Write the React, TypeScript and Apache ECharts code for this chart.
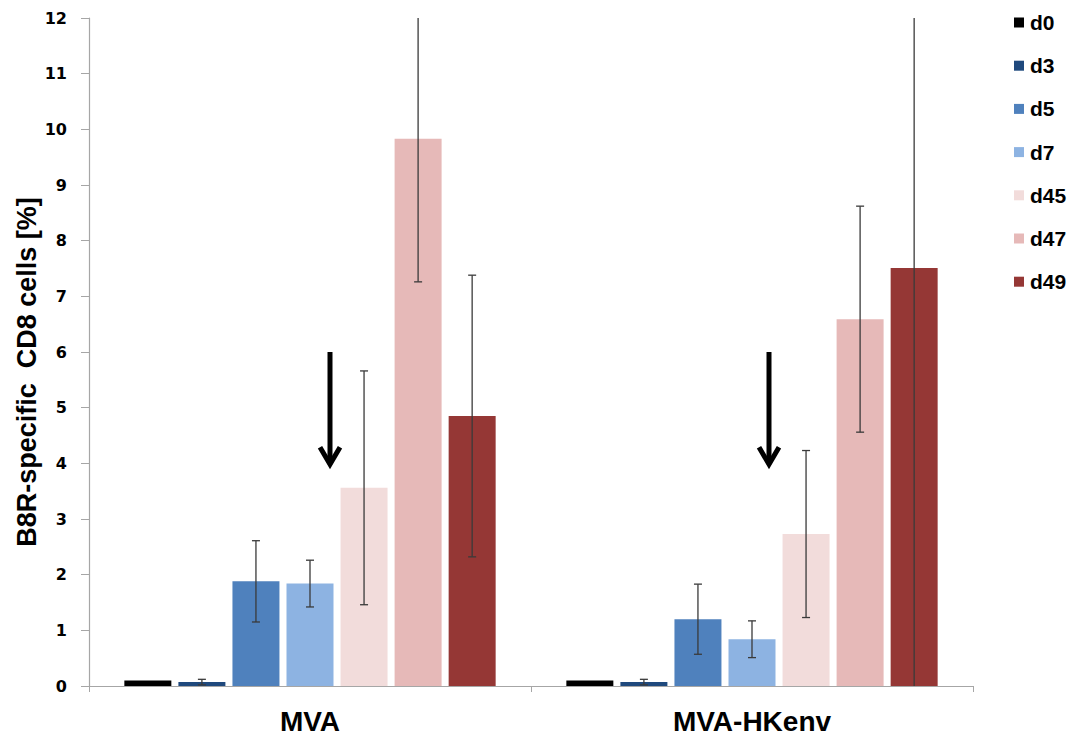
import React, { useEffect, useRef } from "react";
import * as echarts from "echarts";

const categories = ["MVA", "MVA-HKenv"];
const seriesNames = ["d0", "d3", "d5", "d7", "d45", "d47", "d49"];
const seriesColors = ["#000000", "#1F497D", "#4F81BD", "#8DB3E2", "#F2DCDB", "#E6B9B8", "#953735"];
const d0 = [0.1, 0.1];
const d3 = [0.07, 0.07];
const d5 = [1.88, 1.2];
const d7 = [1.84, 0.84];
const d45 = [3.56, 2.73];
const d47 = [9.83, 6.59];
const d49 = [4.85, 7.51];
const errD0 = [0, 0];
const errD3 = [0.05, 0.05];
const errD5 = [0.73, 0.63];
const errD7 = [0.42, 0.33];
const errD45 = [2.1, 1.5];
const errD47 = [2.57, 2.03];
const errD49 = [2.53, 8.0];
const yTicks = [0, 1, 2, 3, 4, 5, 6, 7, 8, 9, 10, 11, 12];
// arrow annotations: [category index, start value, tip value]
const arrows = [
  [0, 6.0, 3.93],
  [1, 6.0, 3.93],
];

const means = [d0, d3, d5, d7, d45, d47, d49];
const errs = [errD0, errD3, errD5, errD7, errD45, errD47, errD49];

const BAR_W = 47;
const BAR_STEP = 54.05;
const Y_MIN = yTicks[0];
const Y_MAX = yTicks[yTicks.length - 1];

export default function App() {
  const ref = useRef<HTMLDivElement>(null);
  useEffect(() => {
    if (!ref.current) return;
    const chart = echarts.init(ref.current, null, { renderer: "svg" });

    const errData: any[] = [];
    means.forEach((m, s) => {
      m.forEach((v, c) => {
        const e = errs[s][c];
        if (e > 0) errData.push([c, v - e, v + e, s]);
      });
    });

    const barSeries = seriesNames.map((name, i) => ({
      name,
      type: "bar",
      data: means[i],
      barWidth: BAR_W,
      barGap: "15%",
      itemStyle: { color: seriesColors[i] },
    }));

    const option: any = {
      animation: false,
      grid: { left: 89, right: 98, top: 18, bottom: 49, containLabel: false },
      legend: {
        orient: "vertical",
        left: 1009,
        top: 7,
        icon: "rect",
        itemWidth: 10,
        itemHeight: 10,
        itemGap: 22.2,
        data: seriesNames,
        textStyle: {
          fontFamily: "Liberation Sans, Arial, sans-serif",
          fontWeight: "bold",
          fontSize: 21,
          lineHeight: 19.5,
          color: "#000",
          padding: [0, 0, 0, 1],
        },
      },
      xAxis: {
        type: "category",
        data: categories,
        axisLine: { lineStyle: { color: "#A6A6A6", width: 1.2 } },
        axisTick: { show: true, length: 6, lineStyle: { color: "#A6A6A6" } },
        axisLabel: {
          margin: 21,
          fontFamily: "Liberation Sans, Arial, sans-serif",
          fontWeight: "bold",
          fontSize: 28,
          color: "#000",
        },
      },
      yAxis: {
        type: "value",
        min: Y_MIN,
        max: Y_MAX,
        interval: 1,
        splitLine: { show: false },
        axisLine: { show: true, lineStyle: { color: "#A6A6A6", width: 1.2 } },
        axisTick: { show: true, length: 8, lineStyle: { color: "#A6A6A6" } },
        axisLabel: {
          margin: 22,
          fontFamily: "DejaVu Sans, Verdana, sans-serif",
          fontWeight: "bold",
          fontSize: 16,
          color: "#000",
        },
      },
      series: [
        ...barSeries,
        {
          name: "err",
          type: "custom",
          z: 10,
          data: errData,
          renderItem: (params: any, api: any) => {
            const c = api.value(0);
            const lo = api.value(1);
            const hi = api.value(2);
            const s = api.value(3);
            const loC = Math.max(Y_MIN, lo);
            const hiC = Math.min(Y_MAX, hi);
            const pLo = api.coord([c, loC]);
            const pHi = api.coord([c, hiC]);
            const x = pLo[0] + (s - 3) * BAR_STEP;
            const style = { stroke: "#3A3A3A", lineWidth: 1.3 };
            const children: any[] = [
              { type: "line", shape: { x1: x, y1: pLo[1], x2: x, y2: pHi[1] }, style },
            ];
            const cap = 4;
            if (lo >= Y_MIN)
              children.push({ type: "line", shape: { x1: x - cap, y1: pLo[1], x2: x + cap, y2: pLo[1] }, style });
            if (hi <= Y_MAX)
              children.push({ type: "line", shape: { x1: x - cap, y1: pHi[1], x2: x + cap, y2: pHi[1] }, style });
            return { type: "group", children };
          },
        },
      ],
    };
    chart.setOption(option);

    // Arrow annotations, positioned via the axes
    const offsets = [20, 17];
    const graphics: any[] = [];
    arrows.forEach(([c, v0, v1], k) => {
      const p0 = chart.convertToPixel({ gridIndex: 0 }, [c, v0]) as number[];
      const p1 = chart.convertToPixel({ gridIndex: 0 }, [c, v1]) as number[];
      const x = p0[0] + offsets[k];
      const arrowStyle = { stroke: "#000", lineWidth: 5, fill: null, lineJoin: "miter", lineCap: "butt" };
      graphics.push({
        type: "line",
        shape: { x1: x, y1: p0[1], x2: x, y2: p1[1] - 3 },
        style: arrowStyle,
        z: 20,
      });
      graphics.push({
        type: "polyline",
        shape: { points: [[x - 10, p1[1] - 20], [x, p1[1] - 3], [x + 10, p1[1] - 20]] },
        style: arrowStyle,
        z: 20,
      });
    });
    graphics.push({
      type: "text",
      x: 27,
      y: 372,
      rotation: Math.PI / 2,
      style: {
        text: "B8R-specific  CD8 cells [%]",
        fontFamily: "Liberation Sans, Arial, sans-serif",
        fontWeight: "bold",
        fontSize: 27,
        fill: "#000",
        align: "center",
        verticalAlign: "middle",
      },
    });
    chart.setOption({ graphic: graphics });

    return () => chart.dispose();
  }, []);
  return <div ref={ref} style={{ width: 1071, height: 735, position: "absolute", left: 0, top: 0 }} />;
}
